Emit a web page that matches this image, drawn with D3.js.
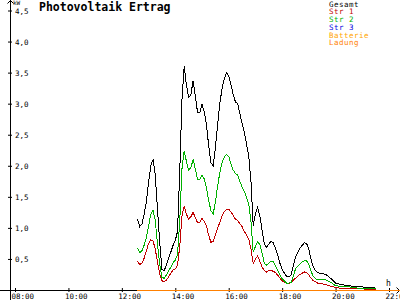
<!DOCTYPE html>
<html>
<head>
<meta charset="utf-8">
<script src="https://cdn.jsdelivr.net/npm/d3@7"></script>
<style>
  body { margin: 0; background: #fff; }
  svg { display: block; }
  text { font-family: "DejaVu Sans Mono", monospace; }
</style>
</head>
<body>
<div id="container"></div>
<script>
// chart size, same as the window
const width = 400;
const height = 300;

// data (kW)
const times = [
  "12:35","12:40","12:45","12:50","12:55",
  "13:00","13:05","13:10","13:15","13:20","13:25","13:30","13:35","13:40","13:45","13:50","13:55",
  "14:00","14:05","14:10","14:15","14:20","14:25","14:30","14:35","14:40","14:45","14:50","14:55",
  "15:00","15:05","15:10","15:15","15:20","15:25","15:30","15:35","15:40","15:45","15:50","15:55",
  "16:00","16:05","16:10","16:15","16:20","16:25","16:30","16:35","16:40","16:45","16:50","16:55",
  "17:00","17:05","17:10","17:15","17:20","17:25","17:30","17:35","17:40","17:45","17:50","17:55",
  "18:00","18:05","18:10","18:15","18:20","18:25","18:30","18:35","18:40","18:45","18:50","18:55",
  "19:00","19:05","19:10","19:15","19:20","19:25","19:30",
  "19:40","19:50","20:00","20:10","20:20","20:30","20:40","20:50","21:00","21:10","21:20","21:30"
];

const gesamt = [
  1.15,1.02,1.06,1.22,1.42,
  1.73,2.00,2.10,1.85,1.31,0.77,0.33,0.31,0.40,0.51,0.61,0.72,
  0.80,0.94,1.90,3.07,3.60,3.30,3.10,3.14,3.37,3.12,2.86,2.85,
  2.99,2.87,2.67,2.32,2.05,2.00,2.29,2.66,3.00,3.24,3.40,3.50,
  3.45,3.31,3.15,3.03,3.00,2.84,2.68,2.54,2.35,2.15,1.75,1.03,
  1.23,1.33,1.19,0.96,0.74,0.69,0.74,0.78,0.76,0.67,0.56,0.43,
  0.33,0.27,0.22,0.21,0.24,0.38,0.53,0.60,0.67,0.72,0.76,0.75,
  0.65,0.49,0.37,0.31,0.28,0.27,0.27,
  0.24,0.18,0.11,0.09,0.08,0.07,0.06,0.05,0.05,0.04,0.04,0.03
];

const str1 = [
  0.47,0.41,0.43,0.51,0.63,
  0.75,0.81,0.79,0.66,0.45,0.26,0.15,0.13,0.16,0.21,0.27,0.32,
  0.34,0.40,0.70,1.19,1.35,1.22,1.14,1.18,1.25,1.17,1.08,1.09,
  1.15,1.11,1.03,0.88,0.77,0.78,0.88,0.99,1.09,1.19,1.26,1.30,
  1.30,1.26,1.20,1.14,1.12,1.07,1.02,0.94,0.89,0.82,0.66,0.43,
  0.50,0.55,0.46,0.37,0.31,0.29,0.31,0.32,0.30,0.28,0.24,0.19,
  0.15,0.12,0.11,0.10,0.12,0.16,0.19,0.22,0.25,0.27,0.29,0.28,
  0.24,0.19,0.15,0.13,0.11,0.10,0.10,
  0.08,0.06,0.04,0.03,0.03,0.02,0.02,0.02,0.02,0.01,0.01,0.01
];

const str2 = [
  0.68,0.60,0.63,0.72,0.84,
  1.03,1.22,1.28,1.12,0.74,0.42,0.20,0.19,0.24,0.31,0.37,0.44,
  0.48,0.57,1.10,1.95,2.24,2.07,1.93,1.97,2.10,1.95,1.78,1.78,
  1.85,1.79,1.64,1.44,1.28,1.22,1.41,1.67,1.89,2.05,2.14,2.18,
  2.15,2.03,1.93,1.88,1.85,1.75,1.66,1.59,1.49,1.38,1.10,0.61,
  0.70,0.78,0.73,0.59,0.43,0.40,0.43,0.46,0.46,0.39,0.32,0.24,
  0.18,0.15,0.11,0.11,0.12,0.22,0.34,0.38,0.42,0.45,0.47,0.47,
  0.41,0.30,0.22,0.18,0.17,0.17,0.17,
  0.16,0.12,0.07,0.06,0.05,0.05,0.04,0.03,0.03,0.03,0.03,0.02
];

// string 3, battery and charging stay at zero all day
const str3Times = ["12:35", "21:30"];
const str3 = [0, 0];
const batterieTimes = ["12:35", "22:25"];
const batterie = [0, 0];
const ladung = [0, 0];

// legend
const seriesNames = ["Gesamt", "Str 1", "Str 2", "Str 3", "Batterie", "Ladung"];
const seriesColors = ["#000000", "#c00000", "#00b000", "#0000e0", "#ffa500", "#ff8000"];

// axis ticks
const xTicks = [8, 10, 12, 14, 16, 18, 20, 22];
const xTickLabels = ["08:00", "10:00", "12:00", "14:00", "16:00", "18:00", "20:00", "22:00"];
const yTicks = [0.5, 1, 1.5, 2, 2.5, 3, 3.5, 4, 4.5];
const yTickLabels = ["0,5", "1,0", "1,5", "2,0", "2,5", "3,0", "3,5", "4,0", "4,5"];

// "hh:mm" -> decimal hours
const toHours = t => {
  const [h, m] = t.split(":").map(Number);
  return h + m / 60;
};

// scales
const xScale = d3.scaleLinear().domain([8, 22]).range([15, 389]);
const yScale = d3.scaleLinear().domain([0, 4.5]).range([290, 10.5]);

const svg = d3.select("#container")
  .append("svg")
  .attr("width", width)
  .attr("height", height);

// axis lines with arrows
svg.append("line")
  .attr("x1", 10.5).attr("x2", 10.5).attr("y1", 0).attr("y2", height)
  .attr("stroke", "#000");
svg.append("line")
  .attr("x1", 0).attr("x2", width).attr("y1", 290.5).attr("y2", 290.5)
  .attr("stroke", "#000");
svg.append("path")
  .attr("d", "M7.5,3.5L10.5,0.5L13.5,3.5")
  .attr("fill", "none").attr("stroke", "#000");
svg.append("path")
  .attr("d", "M396.5,287.5L399.5,290.5L396.5,293.5")
  .attr("fill", "none").attr("stroke", "#000");

// x axis
const xAxis = svg.append("g")
  .attr("transform", "translate(0,290)")
  .call(d3.axisBottom(xScale)
    .tickValues(xTicks)
    .tickFormat((d, i) => xTickLabels[i])
    .tickSizeOuter(0));
xAxis.select(".domain").remove();
xAxis.selectAll(".tick line").attr("y1", -2).attr("y2", 2).attr("stroke", "#000");
xAxis.selectAll(".tick text")
  .attr("x", -4)
  .attr("y", 9)
  .attr("dy", null)
  .attr("text-anchor", "start")
  .attr("font-size", "7.5px")
  .attr("font-family", "DejaVu Sans Mono")
  .attr("fill", "#000");

// y axis
const yAxis = svg.append("g")
  .attr("transform", "translate(10,0)")
  .call(d3.axisRight(yScale)
    .tickValues(yTicks)
    .tickFormat((d, i) => yTickLabels[i])
    .tickSizeOuter(0));
yAxis.select(".domain").remove();
yAxis.selectAll(".tick line").attr("x1", -2).attr("x2", 2).attr("stroke", "#000");
yAxis.selectAll(".tick text")
  .attr("x", 5)
  .attr("dy", "0.35em")
  .attr("font-size", "7.5px")
  .attr("font-family", "DejaVu Sans Mono")
  .attr("fill", "#000");

// unit labels
svg.append("text")
  .attr("x", 13).attr("y", 5)
  .attr("font-size", "6px")
  .text("kW");
svg.append("text")
  .attr("x", 386).attr("y", 285.5)
  .attr("font-size", "8px")
  .text("h");

// title
svg.append("text")
  .attr("x", 39).attr("y", 10.7)
  .attr("font-size", "11.5px")
  .attr("font-weight", "bold")
  .text("Photovoltaik Ertrag");

// lines
const line = d3.line()
  .x(d => xScale(toHours(d[0])))
  .y(d => yScale(d[1]));

const lineData = [
  { t: times, v: gesamt, c: seriesColors[0] },
  { t: times, v: str1, c: seriesColors[1] },
  { t: times, v: str2, c: seriesColors[2] },
  { t: str3Times, v: str3, c: seriesColors[3] },
  { t: batterieTimes, v: batterie, c: seriesColors[4] },
  { t: batterieTimes, v: ladung, c: seriesColors[5] }
];

svg.selectAll("path.series")
  .data(lineData)
  .join("path")
  .attr("class", "series")
  .attr("d", s => line(s.t.map((t, i) => [t, s.v[i]])))
  .attr("fill", "none")
  .attr("stroke", s => s.c)
  .attr("stroke-width", 1)
  .attr("shape-rendering", "crispEdges");

// legend, top right
svg.selectAll("text.legend")
  .data(seriesNames)
  .join("text")
  .attr("class", "legend")
  .attr("x", 329)
  .attr("y", (d, i) => 6.7 + i * 7.7)
  .attr("font-size", "7.5px")
  .attr("letter-spacing", "0.5px")
  .attr("fill", (d, i) => seriesColors[i])
  .text(d => d);
</script>
</body>
</html>
